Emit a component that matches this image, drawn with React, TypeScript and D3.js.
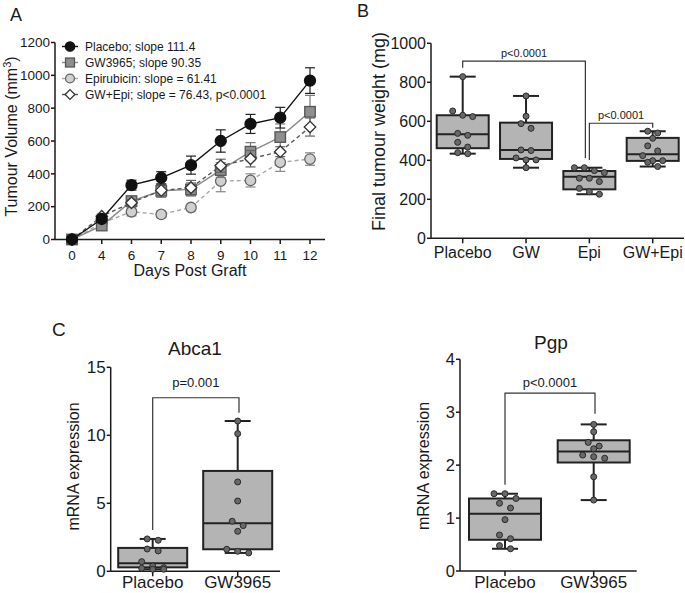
import React from 'react';
import * as d3 from 'd3';

const FONT = '"Liberation Sans", Arial, Helvetica, sans-serif';
const INK = '#1a1a1a';

// ---- panel A: tumour volume over time (mean +/- sem) ----
const days = ['0', '4', '6', '7', '8', '9', '10', '11', '12'];
const placeboVol = [0, 125, 331, 376, 453, 600, 704, 742, 968];
const placeboSem = [0, 15, 30, 37, 55, 68, 58, 63, 78];
const gwVol = [0, 85, 234, 297, 305, 423, 535, 624, 778];
const gwSem = [0, 12, 22, 40, 40, 45, 55, 80, 100];
const epiVol = [0, 100, 169, 153, 195, 356, 360, 470, 490];
const epiSem = [0, 10, 25, 20, 15, 65, 40, 55, 38];
const gwEpiVol = [0, 142, 224, 299, 315, 449, 492, 535, 685];
const gwEpiSem = [0, 12, 20, 35, 45, 40, 50, 30, 55];
const legendA = [
  'Placebo; slope 111.4',
  'GW3965; slope 90.35',
  'Epirubicin: slope = 61.41',
  'GW+Epi; slope = 76.43, p<0.0001',
];
const volTicks = [0, 200, 400, 600, 800, 1000, 1200];

// ---- panel B: final tumour weight ----
const bCats = ['Placebo', 'GW', 'Epi', 'GW+Epi'];
const bPlacebo = [829, 653, 624, 631, 528, 538, 492, 468, 434, 439];
const bGW = [730, 626, 588, 564, 450, 453, 412, 402, 402, 362];
const bEpi = [362, 362, 347, 337, 308, 308, 291, 256, 239, 226];
const bGWEpi = [549, 540, 513, 474, 448, 424, 398, 398, 390, 368];
const bQ1 = [462, 407, 251, 397];
const bMed = [533, 453, 316, 431];
const bQ3 = [631, 593, 345, 515];
const bTicks = [0, 200, 400, 600, 800, 1000];

// ---- panel C: mRNA expression ----
const cCats = ['Placebo', 'GW3965'];
const abcaPlacebo = [2.28, 2.38, 1.64, 1.5, 0.71, 0.39, 0.22, 0.15, 0.27, 0.15];
const abcaGW = [11.05, 10.12, 6.57, 5.17, 3.36, 3.68, 2.94, 1.62, 1.35, 1.47];
const abcaQ1 = [0.29, 1.62];
const abcaMed = [0.59, 3.53];
const abcaQ3 = [1.72, 7.38];
const abcaTicks = [0, 5, 10, 15];
const pgpPlacebo = [1.46, 1.46, 1.28, 1.37, 1.19, 0.97, 0.68, 0.61, 0.48, 0.42];
const pgpGW = [2.77, 2.63, 2.43, 2.31, 2.36, 2.19, 2.16, 2.13, 1.78, 1.34];
const pgpQ1 = [0.59, 2.05];
const pgpMed = [1.08, 2.26];
const pgpQ3 = [1.37, 2.47];
const pgpTicks = [0, 1, 2, 3, 4];

type Kind = 'circle' | 'square' | 'diamond';

function Marker({ kind, x, y, s, fill, stroke }: { kind: Kind; x: number; y: number; s: number; fill: string; stroke: string }) {
  if (kind === 'circle') return <circle cx={x} cy={y} r={s / 2} fill={fill} stroke={stroke} strokeWidth={1.3} />;
  if (kind === 'square')
    return <rect x={x - s / 2} y={y - s / 2} width={s} height={s} fill={fill} stroke={stroke} strokeWidth={1.3} />;
  const h = s / 2;
  return <path d={`M${x},${y - h}L${x + h},${y}L${x},${y + h}L${x - h},${y}Z`} fill={fill} stroke={stroke} strokeWidth={1.3} />;
}

function PanelA() {
  const x = d3.scalePoint<string>().domain(days).range([72, 310]);
  const y = d3.scaleLinear().domain([0, 1200]).range([239.5, 42.5]);

  const series = [
    { label: legendA[0], values: placeboVol, sem: placeboSem, kind: 'circle' as Kind, s: 11, fill: '#111', stroke: '#111', line: '#111', dash: '', err: '#222' },
    { label: legendA[1], values: gwVol, sem: gwSem, kind: 'square' as Kind, s: 10.5, fill: '#8e8e8e', stroke: '#555', line: '#8a8a8a', dash: '', err: '#777' },
    { label: legendA[2], values: epiVol, sem: epiSem, kind: 'circle' as Kind, s: 10.5, fill: '#d0d0d0', stroke: '#666', line: '#a8a8a8', dash: '4,3', err: '#888' },
    { label: legendA[3], values: gwEpiVol, sem: gwEpiSem, kind: 'diamond' as Kind, s: 11.5, fill: '#fff', stroke: '#333', line: '#555', dash: '4,3', err: '#666' },
  ];
  const drawOrder = [2, 1, 3, 0];
  const line = d3.line<number>().x((_, i) => x(days[i])!).y(d => y(d));

  return (
    <g fontFamily={FONT} fill={INK}>
      <text x={10} y={21} fontSize={18}>A</text>
      {/* axes */}
      <line x1={55} x2={55} y1={42.5} y2={239.5} stroke={INK} strokeWidth={1.5} />
      <line x1={55} x2={325} y1={239.5} y2={239.5} stroke={INK} strokeWidth={1.5} />
      {volTicks.map(t => (
        <g key={t}>
          <line x1={51} x2={55} y1={y(t)} y2={y(t)} stroke={INK} strokeWidth={1.5} />
          <text x={50} y={y(t)} dy="0.35em" textAnchor="end" fontSize={13.5}>{t}</text>
        </g>
      ))}
      {days.map(d => (
        <g key={d}>
          <line x1={x(d)} x2={x(d)} y1={239.5} y2={244} stroke={INK} strokeWidth={1.5} />
          <text x={x(d)} y={260} textAnchor="middle" fontSize={13.5}>{d}</text>
        </g>
      ))}
      <text x={190} y={276} textAnchor="middle" fontSize={16}>Days Post Graft</text>
      <text transform="translate(17,136.5) rotate(-90)" textAnchor="middle" fontSize={16}>
        Tumour Volume (mm<tspan dy={-6} fontSize={11}>3</tspan><tspan dy={6}>)</tspan>
      </text>
      {/* series */}
      {drawOrder.map(k => {
        const s = series[k];
        return (
          <g key={k}>
            <path d={line(s.values)!} fill="none" stroke={s.line} strokeWidth={1.4} strokeDasharray={s.dash || undefined} />
            {s.values.map((v, i) =>
              s.sem[i] > 0 ? (
                <g key={i} stroke={s.err} strokeWidth={1.2}>
                  <line x1={x(days[i])} x2={x(days[i])} y1={y(v - s.sem[i])} y2={y(v + s.sem[i])} />
                  <line x1={x(days[i])! - 5} x2={x(days[i])! + 5} y1={y(v + s.sem[i])} y2={y(v + s.sem[i])} />
                  <line x1={x(days[i])! - 5} x2={x(days[i])! + 5} y1={y(v - s.sem[i])} y2={y(v - s.sem[i])} />
                </g>
              ) : null
            )}
            {s.values.map((v, i) => (
              <Marker key={i} kind={s.kind} x={x(days[i])!} y={y(v)} s={s.s} fill={s.fill} stroke={s.stroke} />
            ))}
          </g>
        );
      })}
      {/* legend */}
      {series.map((s, i) => {
        const ly = 46.5 + i * 16;
        return (
          <g key={i}>
            <line x1={62} x2={78} y1={ly} y2={ly} stroke={s.line} strokeWidth={1.4} />
            <Marker kind={s.kind} x={70} y={ly} s={s.s * 0.85} fill={s.fill} stroke={s.stroke} />
            <text x={85} y={ly} dy="0.35em" fontSize={12}>{s.label}</text>
          </g>
        );
      })}
    </g>
  );
}

// dots grouped into rows, each row centred on the category
function swarm(vals: number[], y: (v: number) => number, step: number, r: number) {
  const sorted = vals.slice().sort((a, b) => b - a);
  const rows: number[][] = [];
  let start = -Infinity;
  sorted.forEach(v => {
    const py = y(v);
    if (py - start >= 2 * r) {
      rows.push([v]);
      start = py;
    } else rows[rows.length - 1].push(v);
  });
  const out: { dx: number; py: number }[] = [];
  rows.forEach(row => row.forEach((v, j) => out.push({ dx: (j - (row.length - 1) / 2) * step, py: y(v) })));
  return out;
}

type Bracket = { a: number; b: number; ya: number; top: number; yb: number; label: string; bOff?: number };

type BoxProps = {
  cats: string[];
  groups: number[][];
  q1: number[];
  med: number[];
  q3: number[];
  xRange: [number, number];
  axisX: number;
  axisEnd: number;
  yDomain: [number, number];
  yRange: [number, number];
  ticks: number[];
  boxW: number;
  capW: number;
  step: number;
  tickFont: number;
  catFont: number;
  catY: number;
  brackets: Bracket[];
  pFont: number;
  pGap: number;
  yLabel: string;
  yLabelX: number;
  yLabelY: number;
  yLabelFont: number;
  title?: string;
  titleX?: number;
  titleY?: number;
};

function BoxPanel(p: BoxProps) {
  const x = d3.scalePoint<string>().domain(p.cats).range(p.xRange);
  const y = d3.scaleLinear().domain(p.yDomain).range(p.yRange);
  const y0 = p.yRange[0];
  const r = 3;
  return (
    <g fontFamily={FONT} fill={INK}>
      {p.title && (
        <text x={p.titleX} y={p.titleY} textAnchor="middle" fontSize={19}>{p.title}</text>
      )}
      <text transform={`translate(${p.yLabelX},${p.yLabelY}) rotate(-90)`} textAnchor="middle" fontSize={p.yLabelFont}>
        {p.yLabel}
      </text>
      <line x1={p.axisX} x2={p.axisX} y1={p.yRange[1]} y2={y0} stroke={INK} strokeWidth={1.5} />
      <line x1={p.axisX} x2={p.axisEnd} y1={y0} y2={y0} stroke={INK} strokeWidth={1.5} />
      {p.ticks.map(t => (
        <g key={t}>
          <line x1={p.axisX - 4} x2={p.axisX} y1={y(t)} y2={y(t)} stroke={INK} strokeWidth={1.5} />
          <text x={p.axisX - 5} y={y(t)} dy="0.35em" textAnchor="end" fontSize={p.tickFont}>{t}</text>
        </g>
      ))}
      {p.cats.map(c => (
        <g key={c}>
          <line x1={x(c)} x2={x(c)} y1={y0} y2={y0 + 5} stroke={INK} strokeWidth={1.5} />
          <text x={x(c)} y={p.catY} textAnchor="middle" fontSize={p.catFont}>{c}</text>
        </g>
      ))}
      {p.groups.map((vals, i) => {
        const cx = x(p.cats[i])!;
        const lo = d3.min(vals)!;
        const hi = d3.max(vals)!;
        const dots = swarm(vals, y, p.step, r);
        return (
          <g key={i}>
            <g stroke="#222" strokeWidth={2}>
              <line x1={cx} x2={cx} y1={y(hi)} y2={y(p.q3[i])} />
              <line x1={cx} x2={cx} y1={y(p.q1[i])} y2={y(lo)} />
              <line x1={cx - p.capW / 2} x2={cx + p.capW / 2} y1={y(hi)} y2={y(hi)} />
              <line x1={cx - p.capW / 2} x2={cx + p.capW / 2} y1={y(lo)} y2={y(lo)} />
              <rect x={cx - p.boxW / 2} y={y(p.q3[i])} width={p.boxW} height={y(p.q1[i]) - y(p.q3[i])} fill="#b4b4b4" />
              <line x1={cx - p.boxW / 2} x2={cx + p.boxW / 2} y1={y(p.med[i])} y2={y(p.med[i])} />
            </g>
            {dots.map((d, j) => (
              <circle key={j} cx={cx + d.dx} cy={d.py} r={r} fill="#686868" stroke="#2a2a2a" strokeWidth={1} />
            ))}
          </g>
        );
      })}
      {p.brackets.map((b, i) => {
        const xa = x(p.cats[b.a])!;
        const xb = x(p.cats[b.b])! + (b.bOff || 0);
        return (
          <g key={i}>
            <path
              d={`M${xa},${y(b.ya)}V${y(b.top)}H${xb}V${y(b.yb)}`}
              fill="none"
              stroke="#333"
              strokeWidth={1.2}
            />
            <text x={(xa + xb) / 2} y={y(b.top) - p.pGap} textAnchor="middle" fontSize={p.pFont}>{b.label}</text>
          </g>
        );
      })}
    </g>
  );
}

export default function App() {
  return (
    <svg
      width={685}
      height={593}
      style={{ position: 'absolute', left: 0, top: 0, background: '#fff' }}
    >
      <PanelA />
      <text x={357} y={17} fontSize={18} fontFamily={FONT} fill={INK}>B</text>
      <BoxPanel
        cats={bCats}
        groups={[bPlacebo, bGW, bEpi, bGWEpi]}
        q1={bQ1}
        med={bMed}
        q3={bQ3}
        xRange={[462.7, 652.7]}
        axisX={431}
        axisEnd={684}
        yDomain={[0, 1000]}
        yRange={[238.3, 43.3]}
        ticks={bTicks}
        boxW={52}
        capW={26}
        step={10}
        tickFont={16}
        catFont={16}
        catY={258}
        brackets={[
          { a: 0, b: 2, ya: 875, top: 909, yb: 412, label: 'p<0.0001', bOff: -4 },
          { a: 2, b: 3, ya: 402, top: 590, yb: 567, label: 'p<0.0001' },
        ]}
        pFont={11}
        pGap={4.5}
        yLabel="Final tumour weight (mg)"
        yLabelX={385}
        yLabelY={131.5}
        yLabelFont={18}
      />
      <text x={52} y={336} fontSize={19} fontFamily={FONT} fill={INK}>C</text>
      <BoxPanel
        cats={cCats}
        groups={[abcaPlacebo, abcaGW]}
        q1={abcaQ1}
        med={abcaMed}
        q3={abcaQ3}
        xRange={[152.7, 237.7]}
        axisX={110.7}
        axisEnd={280}
        yDomain={[0, 15]}
        yRange={[571.3, 367.3]}
        ticks={abcaTicks}
        boxW={69}
        capW={26}
        step={11}
        tickFont={17}
        catFont={17}
        catY={588}
        brackets={[{ a: 0, b: 1, ya: 3.04, top: 12.76, yb: 11.66, label: 'p=0.001', bOff: 1.3 }]}
        pFont={13}
        pGap={10.5}
        yLabel="mRNA expression"
        yLabelX={79}
        yLabelY={466.5}
        yLabelFont={16}
        title="Abca1"
        titleX={195}
        titleY={355}
      />
      <BoxPanel
        cats={cCats}
        groups={[pgpPlacebo, pgpGW]}
        q1={pgpQ1}
        med={pgpMed}
        q3={pgpQ3}
        xRange={[505, 593.7]}
        axisX={460}
        axisEnd={636.7}
        yDomain={[0, 4]}
        yRange={[571, 359.3]}
        ticks={pgpTicks}
        boxW={72}
        capW={26}
        step={11}
        tickFont={16.5}
        catFont={17}
        catY={588}
        brackets={[{ a: 0, b: 1, ya: 1.63, top: 3.36, yb: 2.97, label: 'p<0.0001', bOff: 1.3 }]}
        pFont={13}
        pGap={6}
        yLabel="mRNA expression"
        yLabelX={429}
        yLabelY={466}
        yLabelFont={16}
        title="Pgp"
        titleX={551}
        titleY={349}
      />
    </svg>
  );
}
